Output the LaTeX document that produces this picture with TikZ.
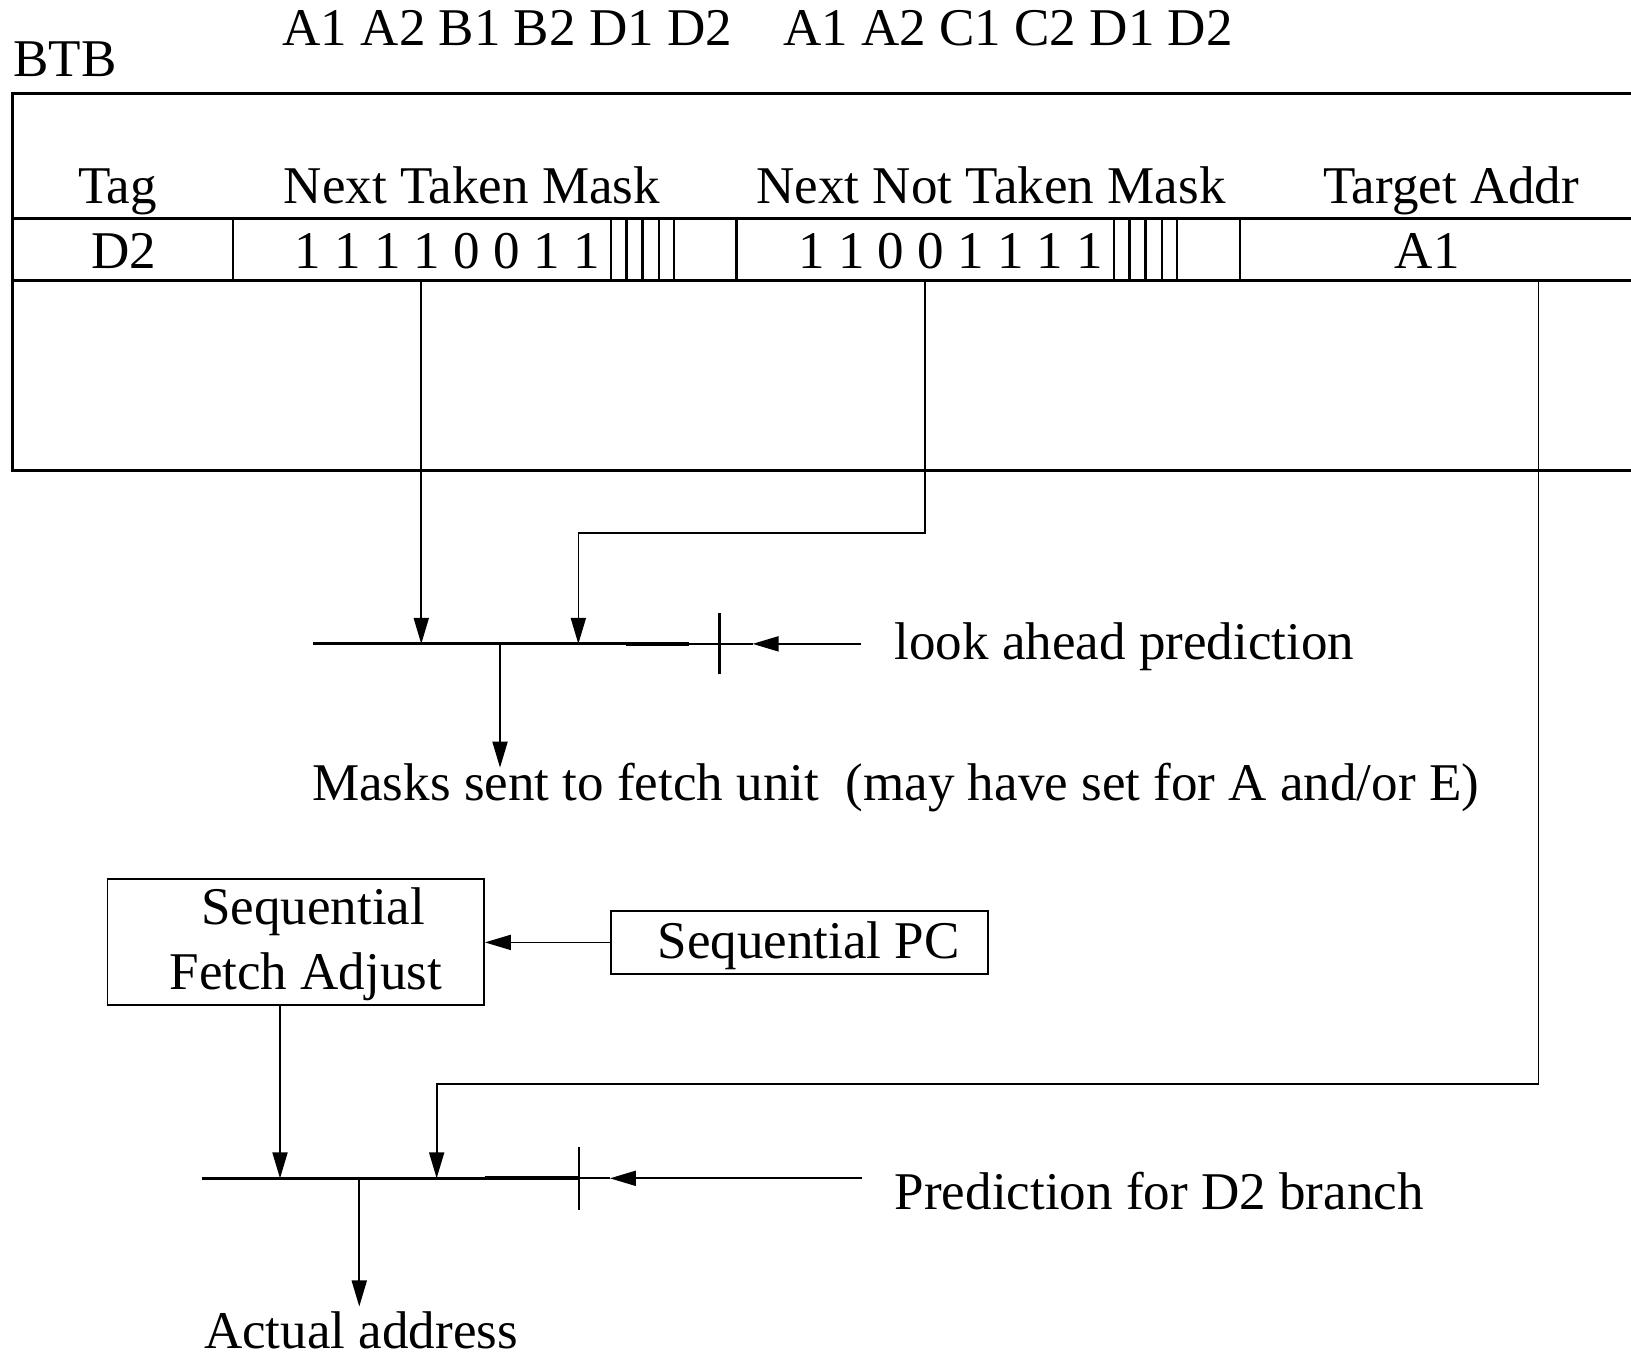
\documentclass[tikz,border=0pt]{standalone}
\usepackage{fontspec}
\setmainfont{Liberation Serif}
\usetikzlibrary{arrows.meta}
\begin{document}
\begin{tikzpicture}[x=1pt,y=-1pt,
  txt/.style={inner sep=0pt, font=\fontsize{51}{58}\selectfont},
  frame/.style={line width=3pt},
  rowline/.style={line width=2.6pt},
  stripe/.style={line width=1.8pt},
  stripeb/.style={line width=2.6pt},
  wire/.style={line width=1.6pt},
  arr/.style={wire, -{Triangle[length=25pt,width=14.5pt]}},
  bus/.style={line width=2.8pt},
  heavy/.style={line width=3.6pt},
  tickmark/.style={line width=2.8pt},
  box/.style={draw, line width=1.6pt, inner sep=0pt}
]
\useasboundingbox (0,0) rectangle (1568,1305);

% ---- branch target buffer entry ----
\draw[frame] (1580,90) -- (12,90) -- (12,452) -- (1580,452);
\draw[rowline] (12,210) -- (1580,210);
\draw[rowline] (12,270) -- (1580,270);
\foreach \x in {224,708,1192} \draw[rowline] (\x,210) -- (\x,270);

% unused mask bit cells
\foreach \x in {587.4,648.3,1071,1131.8} \draw[stripe] (\x,210) -- (\x,270);
\foreach \x in {602.5,617.8,633.6,1085.7,1101.4,1117.1} \draw[stripeb] (\x,210) -- (\x,270);

\node[txt, anchor=base west] (btb) at (12.5,73.7) {BTB};
\node[txt, anchor=base west] (pathT) at (271.5,43.3) {A1 A2 B1 B2 D1 D2};
\node[txt, anchor=base west] (pathN) at (752.8,43.3) {A1 A2 C1 C2 D1 D2};

\node[txt, anchor=base] (hTag) at (113,196) {Tag};
\node[txt, anchor=base] (hNT) at (453.7,196) {Next Taken Mask};
\node[txt, anchor=base] (hNNT) at (952.7,196) {Next Not Taken Mask};
\node[txt, anchor=base] (hTgt) at (1395,196) {Target Addr};

\node[txt, anchor=base] (vTag) at (119,258) {D2};
\node[txt, anchor=base] (vNT) at (429.8,258) {1 1 1 1 0 0 1 1};
\node[txt, anchor=base] (vNNT) at (914,258) {1 1 0 0 1 1 1 1};
\node[txt, anchor=base] (vTgt) at (1372,258) {A1};

% ---- connector points ----
\coordinate (ntmOut) at (405,270);
\coordinate (nntOut) at (889,270);
\coordinate (tgtOut) at (1479,270);
\coordinate (nntBend) at (556,512.7);
\coordinate (tgtBend) at (419.8,1042);

% first selector
\coordinate (m1L) at (300.6,619);
\coordinate (m1a) at (405,619);
\coordinate (m1b) at (556,619);
\coordinate (m1o) at (480.7,619);
\coordinate (m1t) at (692,619);
\coordinate (m1tip) at (723.5,619);
\coordinate (m1in) at (828,619);
\coordinate (maskTip) at (480.7,738);

% second selector
\coordinate (m2L) at (193.9,1132.8);
\coordinate (m2a) at (269.2,1132.8);
\coordinate (m2b) at (419.8,1132.8);
\coordinate (m2o) at (345.4,1132.8);
\coordinate (m2t) at (556.6,1132.8);
\coordinate (m2tip) at (586.4,1132.8);
\coordinate (m2in) at (829,1132.8);
\coordinate (addrTip) at (345.4,1256);

% ---- look ahead selector ----
\draw[bus] (m1L) -- (602,619);
\draw[heavy] (602,619) -- (662,619);
\draw[wire] (662,619) -- (m1tip);
\draw[tickmark] ([yshift=-29.4pt]m1t) -- ([yshift=30pt]m1t);
\draw[arr] (ntmOut) -- (m1a);
\draw[arr] (nntOut) |- (nntBend) -- (m1b);
\draw[arr] (m1in) -- (m1tip);
\draw[arr] (m1o) -- (maskTip);

\node[txt, anchor=base west] (lap) at (859.7,634.5) {look ahead prediction};
\node[txt, anchor=base west] (masks) at (300,770) {Masks sent to fetch unit\ \ (may have set for A and/or E)};

% ---- sequential path ----
\node[box, minimum width=362pt, minimum height=120.7pt] (sfa) at (284.4,905.6) {};
\node[txt, anchor=base] (sfa1) at (301,889) {Sequential};
\node[txt, anchor=base] (sfa2) at (294,951.7) {Fetch Adjust};
\node[box, minimum width=362.6pt, minimum height=60.9pt] (spc) at (768.7,906) {};
\node[txt, anchor=base] (spcT) at (777.5,921.3) {Sequential PC};
\draw[arr] (spc.west) -- (spc.west -| sfa.east);

% ---- branch prediction selector ----
\draw[bus] (m2L) -- (466,1132.8);
\draw[heavy] (466,1132.8) -- (m2t);
\draw[line width=2pt] (m2t) -- (m2tip);
\draw[tickmark] ([yshift=-30.4pt]m2t) -- ([yshift=30.4pt]m2t);
\draw[arr] (sfa.south -| m2a) -- (m2a);
\draw[arr] (tgtOut) |- (tgtBend) -- (m2b);
\draw[arr] (m2in) -- (m2tip);
\draw[arr] (m2o) -- (addrTip);

\node[txt, anchor=base west] (pred) at (860,1163) {Prediction for D2 branch};
\node[txt, anchor=base west] (actual) at (196,1296) {Actual address};
\end{tikzpicture}
\end{document}
